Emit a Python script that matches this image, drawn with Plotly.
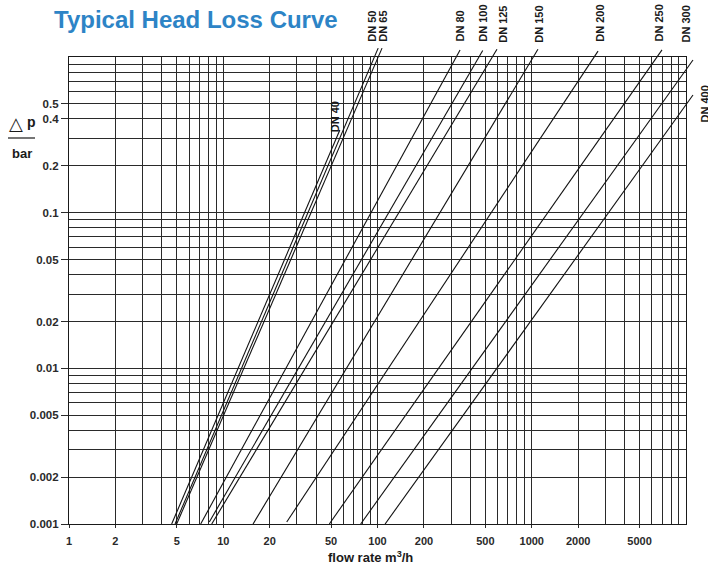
import math
import plotly.graph_objects as go

# ---------------- data ----------------
series_names = ["DN 40", "DN 50", "DN 65", "DN 80", "DN 100", "DN 125",
                "DN 150", "DN 200", "DN 250", "DN 300", "DN 400"]
flow_start = [4.63, 4.87, 4.99, 7.14, 8.12, 8.42, 15.6, 25.8, 48.7, 77.8, 112]
dp_start = [0.001, 0.001, 0.001, 0.001, 0.00103, 0.001, 0.001, 0.00103, 0.001, 0.001, 0.001]
flow_end = [57, 101, 107, 343, 481, 595, 1097, 2690, 6990, 11100, 11100]
dp_end = [0.34, 1.14, 1.14, 1.11, 1.10, 1.12, 1.12, 1.09, 1.11, 0.957, 0.570]

x_tick_vals = [1, 2, 5, 10, 20, 50, 100, 200, 500, 1000, 2000, 5000]
x_tick_text = ["1", "2", "5", "10", "20", "50", "100", "200", "500", "1000", "2000", "5000"]
y_tick_vals = [0.001, 0.002, 0.005, 0.01, 0.02, 0.05, 0.1, 0.2, 0.4, 0.5]
y_tick_text = ["0.001", "0.002", "0.005", "0.01", "0.02", "0.05", "0.1", "0.2", "0.4", "0.5"]
x_range = [1, 10000]
y_range = [0.001, 1]

# ---------------- layout geometry ----------------
W, H = 708, 569
ML, MR, MT, MB = 69, 10, 40, 45
PW, PH = W - ML - MR, H - MT - MB
box_right_px, box_top_px = 686, 57          # main plot box edges
main_xdom = (box_right_px - ML) / PW
main_ydom = (H - MB - box_top_px) / PH


def px_x(px):
    return (px - ML) / PW


def px_y(py):
    return (H - MB - py) / PH


lx0, lx1 = math.log10(x_range[0]), math.log10(x_range[1])
ly0, ly1 = math.log10(y_range[0]), math.log10(y_range[1])
x2_range = [lx0, lx0 + (lx1 - lx0) / main_xdom]
y2_range = [ly0, ly0 + (ly1 - ly0) / main_ydom]

minor_x = [k * 10 ** e for e in range(0, 4) for k in range(1, 10)] + [10000]
minor_y = [k * 10 ** e for e in range(-3, 0) for k in range(1, 10)] + [1]

GRID = "#2a2a2a"
FONT = "Liberation Sans, Arial, sans-serif"

fig = go.Figure()
# empty trace so that the gridded main subplot is created
fig.add_trace(go.Scatter(x=[], y=[], xaxis="x", yaxis="y", mode="lines",
                         showlegend=False, hoverinfo="skip"))
for name, qs, ds, qe, de in zip(series_names, flow_start, dp_start, flow_end, dp_end):
    fig.add_trace(go.Scatter(
        x=[qs, qe], y=[ds, de], mode="lines", name=name,
        line=dict(color="#111111", width=1.1),
        xaxis="x2", yaxis="y2", showlegend=False, hoverinfo="skip"))

# label offsets (pixels) from each line's end point
label_shift = {
    "DN 40": (-4, -4), "DN 50": (-7, 4), "DN 65": (1, 4), "DN 80": (0, 6),
    "DN 100": (0, 7), "DN 125": (6, 5), "DN 150": (1, 5), "DN 200": (2, 7),
    "DN 250": (-3, 6), "DN 300": (-7, 16), "DN 400": (12, -29),
}
annotations = []
for name, qe, de in zip(series_names, flow_end, dp_end):
    sx, sy = label_shift[name]
    annotations.append(dict(
        x=math.log10(qe), y=math.log10(de), xref="x2", yref="y2",
        text=name, showarrow=False, textangle=-90,
        xanchor="center", yanchor="bottom", xshift=sx, yshift=sy,
        font=dict(family=FONT, size=11, color="#1a1a1a", weight="bold")))

# title
annotations.append(dict(
    x=px_x(196), y=px_y(20), xref="paper", yref="paper",
    text="Typical Head Loss Curve", showarrow=False,
    xanchor="center", yanchor="middle",
    font=dict(family=FONT, size=24, color="#2d84c6", weight="bold")))
# x axis title
annotations.append(dict(
    x=px_x(370), y=px_y(557), xref="paper", yref="paper",
    text="flow rate m<sup>3</sup>/h", showarrow=False,
    xanchor="center", yanchor="middle",
    font=dict(family=FONT, size=13, color="#1a1a1a", weight="bold")))
# y axis title (fraction)
annotations.append(dict(
    x=px_x(16), y=px_y(124), xref="paper", yref="paper",
    text="△", showarrow=False, xanchor="center", yanchor="middle",
    font=dict(family="DejaVu Sans, sans-serif", size=18, color="#1a1a1a")))
annotations.append(dict(
    x=px_x(31), y=px_y(122), xref="paper", yref="paper",
    text="p", showarrow=False, xanchor="center", yanchor="middle",
    font=dict(family=FONT, size=14, color="#1a1a1a", weight="bold")))
annotations.append(dict(
    x=px_x(22), y=px_y(153), xref="paper", yref="paper",
    text="bar", showarrow=False, xanchor="center", yanchor="middle",
    font=dict(family=FONT, size=13, color="#1a1a1a", weight="bold")))

shapes = [dict(type="line", xref="paper", yref="paper",
               x0=px_x(8), x1=px_x(35), y0=px_y(138), y1=px_y(138),
               line=dict(color="#1a1a1a", width=1.2))]

fig.update_layout(
    width=W, height=H,
    margin=dict(l=ML, r=MR, t=MT, b=MB),
    paper_bgcolor="white", plot_bgcolor="rgba(0,0,0,0)",
    showlegend=False,
    annotations=annotations, shapes=shapes,
    xaxis=dict(
        type="log", range=[lx0, lx1], domain=[0, main_xdom], anchor="y",
        tickvals=x_tick_vals, ticktext=x_tick_text,
        ticks="outside", ticklen=3, tickcolor=GRID, ticklabelstandoff=4,
        tickfont=dict(family=FONT, size=11, color="#2a2a2a", weight="bold"),
        showgrid=True, gridcolor=GRID, gridwidth=1,
        minor=dict(tickvals=minor_x, showgrid=True, gridcolor=GRID, gridwidth=1, ticks=""),
        showline=True, mirror=True, linecolor="#1a1a1a", linewidth=1.2,
        zeroline=False, fixedrange=True),
    yaxis=dict(
        type="log", range=[ly0, ly1], domain=[0, main_ydom], anchor="x",
        tickvals=y_tick_vals, ticktext=y_tick_text,
        ticks="outside", ticklen=7, tickcolor=GRID,
        tickfont=dict(family=FONT, size=11.5, color="#2a2a2a", weight="bold"),
        showgrid=True, gridcolor=GRID, gridwidth=1,
        minor=dict(tickvals=minor_y, showgrid=True, gridcolor=GRID, gridwidth=1, ticks=""),
        showline=True, mirror=True, linecolor="#1a1a1a", linewidth=1.2,
        zeroline=False, fixedrange=True),
    xaxis2=dict(type="log", range=x2_range, domain=[0, 1], anchor="y2",
                visible=False, showgrid=False, fixedrange=True),
    yaxis2=dict(type="log", range=y2_range, domain=[0, 1], anchor="x2",
                visible=False, showgrid=False, fixedrange=True),
)

fig.write_html("out.html",
               config={"displayModeBar": False},
               post_script="document.body.style.margin='0';")
